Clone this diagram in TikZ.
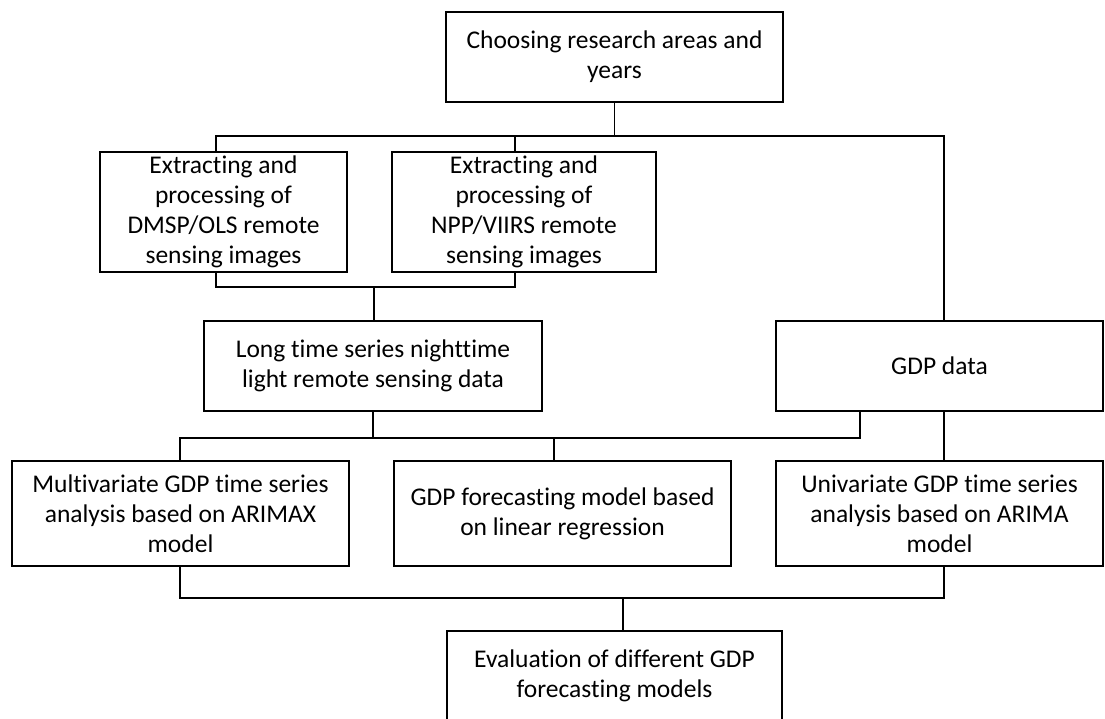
\documentclass[tikz,border=0pt]{standalone}
\usepackage{fontspec}
\setmainfont{Carlito}[Ligatures={NoCommon}]
\begin{document}
\begin{tikzpicture}[x=1pt,y=-1pt,
  box/.style={draw, line width=1.3pt, align=center, inner sep=0pt, font=\fontsize{25.5}{30}\selectfont},
  conn/.style={line width=1.3pt}]
\useasboundingbox (0,0) rectangle (1105,718);
\node[box, minimum width=337pt, minimum height=90pt] (top) at (614.5,57) {Choosing research areas and\\years};
\node[box, minimum width=247pt, minimum height=120pt] (dmsp) at (223.5,212) {Extracting and\\processing of\\DMSP/OLS remote\\sensing images};
\node[box, minimum width=264pt, minimum height=120pt] (npp) at (524,212) {Extracting and\\processing of\\NPP/VIIRS remote\\sensing images};
\node[box, minimum width=338pt, minimum height=90pt] (long) at (373,366) {Long time series nighttime\\light remote sensing data};
\node[box, minimum width=327pt, minimum height=90pt] (gdp) at (939.5,366) {GDP data};
\node[box, minimum width=337pt, minimum height=105pt] (multi) at (180.5,513.5) {Multivariate GDP time series\\analysis based on ARIMAX\\model};
\node[box, minimum width=337pt, minimum height=105pt] (lin) at (562.5,513.5) {GDP forecasting model based\\on linear regression};
\node[box, minimum width=327pt, minimum height=105pt] (uni) at (939.5,513.5) {Univariate GDP time series\\analysis based on ARIMA\\model};
\node[box, minimum width=335pt, minimum height=90pt] (eval) at (614.5,676) {Evaluation of different GDP\\forecasting models};

\coordinate (a1) at (216,136);
\coordinate (a2) at (515,136);
\coordinate (a3) at (944,136);
\draw[conn] (top.south) -- (top.south |- a1);
\draw[conn] (a1 |- dmsp.north) -- (a1) -- (a3) -- (a3 |- gdp.north);
\draw[conn] (a2) -- (a2 |- npp.north);

\coordinate (c1) at (216,287);
\coordinate (c2) at (515,287);
\coordinate (c3) at (374,287);
\draw[conn] (c1 |- dmsp.south) -- (c1) -- (c2) -- (c2 |- npp.south);
\draw[conn] (c3) -- (c3 |- long.north);

\coordinate (d1) at (180,438);
\coordinate (d2) at (554,438);
\coordinate (d3) at (860,438);
\draw[conn] (long.south) -- (long.south |- d1);
\draw[conn] (d1 |- multi.north) -- (d1) -- (d3) -- (d3 |- gdp.south);
\draw[conn] (d2) -- (d2 |- lin.north);
\draw[conn] (a3 |- gdp.south) -- (a3 |- uni.north);

\coordinate (e1) at (180,598);
\coordinate (e2) at (944,598);
\coordinate (e3) at (623,598);
\draw[conn] (e1 |- multi.south) -- (e1) -- (e2) -- (e2 |- uni.south);
\draw[conn] (e3) -- (e3 |- eval.north);
\end{tikzpicture}
\end{document}
